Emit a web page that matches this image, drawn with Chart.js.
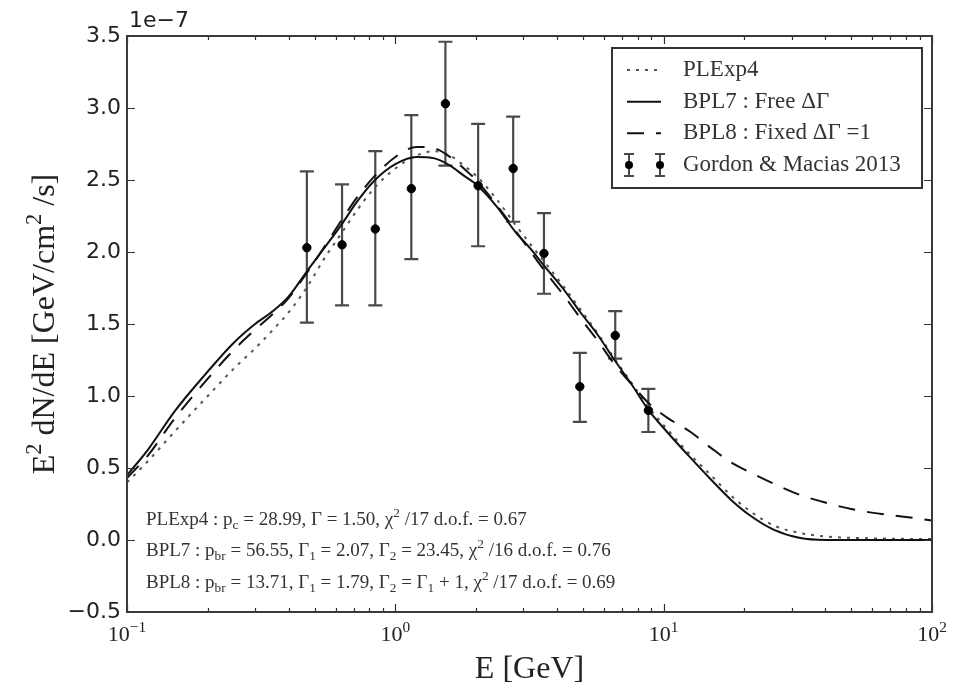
<!DOCTYPE html>
<html><head><meta charset="utf-8">
<script src="https://cdn.jsdelivr.net/npm/chart.js@4.4.0/dist/chart.umd.min.js"></script>
<style>html,body{margin:0;padding:0;background:#fff;}#wrap{width:965px;height:689px;}</style>
</head><body><div id="wrap"><canvas id="c" width="965" height="689"></canvas></div>
<script>
// ---- data (units of 1e-7 GeV/cm^2/s) ----
const energyGrid = [0.1,0.12,0.15,0.2,0.25,0.3,0.35,0.4,0.47,0.55,0.63,0.72,0.84,1.0,1.2,1.4,1.6,1.8,2.0,2.4,2.8,3.2,3.6,4.2,4.9,5.7,6.5,7.6,8.8,10.3,12.6,15,17.8,21,25.8,32,40,50,65,80,100];
const plexp4 = [0.40,0.55,0.75,1.00,1.19,1.33,1.46,1.58,1.76,1.97,2.13,2.29,2.45,2.58,2.67,2.70,2.67,2.60,2.53,2.36,2.19,2.05,1.93,1.77,1.60,1.43,1.27,1.09,0.92,0.77,0.59,0.45,0.31,0.20,0.10,0.05,0.025,0.015,0.01,0.008,0.006];
const bpl7 = [0.45,0.63,0.89,1.17,1.37,1.50,1.59,1.69,1.87,2.04,2.19,2.35,2.50,2.61,2.66,2.65,2.60,2.53,2.47,2.31,2.14,2.02,1.90,1.75,1.58,1.42,1.26,1.08,0.90,0.75,0.57,0.42,0.28,0.17,0.07,0.015,0,0,0,0,0];
const bpl8 = [0.43,0.59,0.84,1.12,1.32,1.46,1.57,1.68,1.86,2.05,2.22,2.38,2.53,2.66,2.73,2.72,2.66,2.58,2.50,2.32,2.15,2.00,1.87,1.71,1.54,1.38,1.23,1.08,0.95,0.85,0.75,0.64,0.54,0.47,0.39,0.315,0.26,0.215,0.18,0.16,0.135];
const dataE  = [0.468,0.633,0.842,1.147,1.537,2.035,2.749,3.58,4.87,6.60,8.77];
const dataY  = [2.03,2.05,2.16,2.44,3.03,2.46,2.58,1.99,1.065,1.42,0.90];
const dataHi = [2.56,2.47,2.70,2.95,3.46,2.89,2.94,2.27,1.30,1.59,1.05];
const dataLo = [1.51,1.63,1.63,1.95,2.60,2.04,2.21,1.71,0.82,1.26,0.75];
const yTicks = [-0.5,0,0.5,1,1.5,2,2.5,3,3.5];
const xMajorTicks = [0.1,1,10,100];
const xTickExponents = ['\u22121','0','1','2'];
const seriesNames = ['PLExp4','BPL7 : Free \u0394\u0393','BPL8 : Fixed \u0394\u0393 =1','Gordon & Macias 2013'];

const SERIF = '"Liberation Serif", "DejaVu Serif", serif';
const SANS = '"DejaVu Sans", sans-serif';
const DASH = [17,12], DOT = [3,6];

function pts(xs, ys){ return xs.map((x,i)=>({x:x,y:ys[i]})); }

function drawRich(ctx, segs, x, y, size, family, measureOnly){
  let cx = x;
  for (const [t,m] of segs){
    const s = m==='n' ? size : size*0.7;
    ctx.font = s+'px '+family;
    const dy = m==='sup' ? -size*0.4 : (m==='sub' ? size*0.22 : 0);
    if(!measureOnly) ctx.fillText(t, cx, y+dy);
    cx += ctx.measureText(t).width;
  }
  return cx - x;
}

const annotations = [
  [['PLExp4 : p','n'],['c','sub'],[' = 28.99, \u0393 = 1.50, \u03c7','n'],['2','sup'],[' /17 d.o.f. = 0.67','n']],
  [['BPL7 : p','n'],['br','sub'],[' = 56.55, \u0393','n'],['1','sub'],[' = 2.07, \u0393','n'],['2','sub'],[' = 23.45, \u03c7','n'],['2','sup'],[' /16 d.o.f. = 0.76','n']],
  [['BPL8 : p','n'],['br','sub'],[' = 13.71, \u0393','n'],['1','sub'],[' = 1.79, \u0393','n'],['2','sub'],[' = \u0393','n'],['1','sub'],[' + 1, \u03c7','n'],['2','sup'],[' /17 d.o.f. = 0.69','n']]
];

const decorPlugin = {
  id:'decor',
  beforeDatasetsDraw(chart){
    const ctx = chart.ctx, xs = chart.scales.x, ys = chart.scales.y;
    ctx.save();
    ctx.strokeStyle = '#4a4a4a'; ctx.lineWidth = 2.2;
    for(let i=0;i<dataE.length;i++){
      const px = xs.getPixelForValue(dataE[i]);
      const pt = ys.getPixelForValue(dataHi[i]), pb = ys.getPixelForValue(dataLo[i]);
      ctx.beginPath();
      ctx.moveTo(px,pt); ctx.lineTo(px,pb);
      ctx.moveTo(px-7,pt); ctx.lineTo(px+7,pt);
      ctx.moveTo(px-7,pb); ctx.lineTo(px+7,pb);
      ctx.stroke();
    }
    ctx.restore();
  },
  afterDraw(chart){
    const ctx = chart.ctx, xs = chart.scales.x, ys = chart.scales.y, a = chart.chartArea;
    ctx.save();
    // ticks
    ctx.strokeStyle = '#333'; ctx.lineWidth = 1.2;
    ctx.beginPath();
    for(const v of yTicks){
      const py = Math.round(ys.getPixelForValue(v))+0.5;
      ctx.moveTo(a.left,py); ctx.lineTo(a.left+8,py);
      ctx.moveTo(a.right,py); ctx.lineTo(a.right-8,py);
    }
    for(let d=0; d<xMajorTicks.length; d++){
      const base = xMajorTicks[d];
      const px = Math.round(xs.getPixelForValue(base))+0.5;
      ctx.moveTo(px,a.bottom); ctx.lineTo(px,a.bottom-8);
      ctx.moveTo(px,a.top); ctx.lineTo(px,a.top+8);
      if(d<xMajorTicks.length-1){
        for(let k=2;k<=9;k++){
          const mx = Math.round(xs.getPixelForValue(base*k))+0.5;
          ctx.moveTo(mx,a.bottom); ctx.lineTo(mx,a.bottom-4);
          ctx.moveTo(mx,a.top); ctx.lineTo(mx,a.top+4);
        }
      }
    }
    ctx.stroke();
    // frame
    ctx.strokeStyle = '#3a3a3a'; ctx.lineWidth = 2;
    ctx.strokeRect(a.left, a.top, a.right-a.left, a.bottom-a.top);

    ctx.fillStyle = '#222';
    // x tick labels
    ctx.textBaseline = 'alphabetic';
    for(let d=0; d<xMajorTicks.length; d++){
      const px = xs.getPixelForValue(xMajorTicks[d]);
      const segs = [['10','n'],[xTickExponents[d],'sup']];
      const w = drawRich(ctx, segs, 0, 0, 22, SERIF, true);
      drawRich(ctx, segs, px - w/2, 641, 22, SERIF);
    }
    // offset text
    ctx.font = '22px '+SANS; ctx.textAlign='left';
    ctx.fillText('1e\u22127', a.left+2, 27);
    // x label
    {
      const segs=[['E [GeV]','n']];
      const w = drawRich(ctx, segs, 0,0, 32, SERIF, true);
      drawRich(ctx, segs, (a.left+a.right)/2 - w/2, 678, 32, SERIF);
    }
    // y label
    {
      const segs=[['E','n'],['2','sup'],[' dN/dE [GeV/cm','n'],['2','sup'],[' /s]','n']];
      const w = drawRich(ctx, segs, 0,0, 32, SERIF, true);
      ctx.save();
      ctx.translate(54, (a.top+a.bottom)/2);
      ctx.rotate(-Math.PI/2);
      drawRich(ctx, segs, -w/2, 0, 32, SERIF);
      ctx.restore();
    }
    // annotations
    ctx.fillStyle = '#333';
    const rowsY = [525, 556, 588];
    annotations.forEach((segs,i)=> drawRich(ctx, segs, 146, rowsY[i], 19, SERIF));

    // legend
    const lx=612, ly=48, lw=310, lh=140;
    ctx.fillStyle='#fff'; ctx.fillRect(lx,ly,lw,lh);
    ctx.strokeStyle='#333'; ctx.lineWidth=2; ctx.strokeRect(lx,ly,lw,lh);
    const rowY=[70,101.7,133.3,165];
    const sx0=627, sx1=661;
    ctx.strokeStyle='#555'; ctx.lineWidth=2; ctx.setLineDash(DOT);
    ctx.beginPath(); ctx.moveTo(sx0,rowY[0]); ctx.lineTo(sx1,rowY[0]); ctx.stroke();
    ctx.strokeStyle='#111'; ctx.setLineDash([]);
    ctx.beginPath(); ctx.moveTo(sx0,rowY[1]); ctx.lineTo(sx1,rowY[1]); ctx.stroke();
    ctx.setLineDash(DASH);
    ctx.beginPath(); ctx.moveTo(sx0,rowY[2]); ctx.lineTo(sx1,rowY[2]); ctx.stroke();
    ctx.setLineDash([]);
    for(const mx of [629,660]){
      const cy=rowY[3];
      ctx.strokeStyle='#4a4a4a'; ctx.lineWidth=2;
      ctx.beginPath();
      ctx.moveTo(mx,cy-11); ctx.lineTo(mx,cy+11);
      ctx.moveTo(mx-5,cy-11); ctx.lineTo(mx+5,cy-11);
      ctx.moveTo(mx-5,cy+11); ctx.lineTo(mx+5,cy+11);
      ctx.stroke();
      ctx.fillStyle='#000'; ctx.beginPath(); ctx.arc(mx,cy,4,0,Math.PI*2); ctx.fill();
    }
    ctx.fillStyle='#333'; ctx.textBaseline='middle'; ctx.font='23px '+SERIF;
    seriesNames.forEach((t,i)=>ctx.fillText(t, 683, rowY[i]));
    ctx.restore();
  }
};

new Chart(document.getElementById('c'), {
  type:'scatter',
  data:{datasets:[
    {label:seriesNames[3], data:pts(dataE,dataY), showLine:false, pointRadius:4.2, pointBackgroundColor:'#000', pointBorderColor:'#000', order:0},
    {label:seriesNames[1], data:pts(energyGrid,bpl7), showLine:true, pointRadius:0, borderColor:'#111', borderWidth:2, cubicInterpolationMode:'monotone', order:1},
    {label:seriesNames[2], data:pts(energyGrid,bpl8), showLine:true, pointRadius:0, borderColor:'#111', borderWidth:2, borderDash:DASH, cubicInterpolationMode:'monotone', order:2},
    {label:seriesNames[0], data:pts(energyGrid,plexp4), showLine:true, pointRadius:0, borderColor:'#555', borderWidth:2, borderDash:DOT, cubicInterpolationMode:'monotone', order:3}
  ]},
  options:{
    responsive:false, animation:false, devicePixelRatio:1, events:[],
    layout:{padding:{top:36,right:33,left:0,bottom:0}},
    plugins:{legend:{display:false}, tooltip:{enabled:false}},
    scales:{
      x:{type:'logarithmic', min:0.1, max:100, grid:{display:false}, border:{display:false},
         ticks:{display:false}, afterFit(s){ s.height = 77; }},
      y:{type:'linear', min:-0.5, max:3.5, grid:{display:false, drawTicks:false}, border:{display:false},
         afterBuildTicks(s){ s.ticks = yTicks.map(v=>({value:v})); },
         ticks:{padding:6, color:'#222', font:{family:'DejaVu Sans', size:22},
           callback:(v)=> (v<0?'\u2212':'') + Math.abs(v).toFixed(1)},
         afterFit(s){ s.width = 127; }}
    }
  },
  plugins:[decorPlugin]
});
</script></body></html>
